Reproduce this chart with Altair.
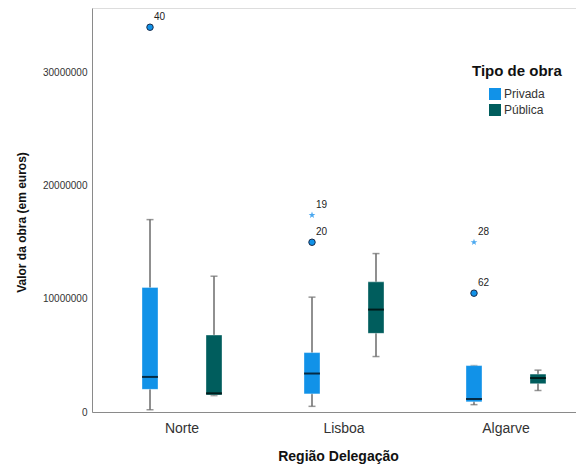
import altair as alt
import pandas as pd

FONT = "Liberation Sans"

regions = ["Norte", "Lisboa", "Algarve"]
tipos = ["Privada", "Pública"]

# box statistics (euros): per region x tipo
box_regiao = ["Norte", "Norte", "Lisboa", "Lisboa", "Algarve", "Algarve"]
box_tipo = ["Privada", "Pública", "Privada", "Pública", "Privada", "Pública"]
whisk_low = [200000, 1450000, 500000, 4900000, 650000, 1900000]
q1 = [2000000, 1500000, 1600000, 6950000, 900000, 2500000]
median = [3100000, 1650000, 3400000, 9050000, 1150000, 3000000]
q3 = [11000000, 6800000, 5250000, 11500000, 4100000, 3350000]
whisk_high = [17000000, 12000000, 10150000, 14000000, 4100000, 3700000]

# outliers
out_regiao = ["Norte", "Lisboa", "Lisboa", "Algarve", "Algarve"]
out_tipo = ["Privada", "Privada", "Privada", "Privada", "Privada"]
out_valor = [34000000, 17400000, 15000000, 15000000, 10500000]
out_id = ["40", "19", "20", "28", "62"]
out_kind = ["circle", "extreme", "circle", "extreme", "circle"]

colors = ["#1192e8", "#005d5d"]

boxes = pd.DataFrame({
    "regiao": box_regiao, "tipo": box_tipo, "lo": whisk_low, "q1": q1,
    "med": median, "q3": q3, "hi": whisk_high,
})
outs = pd.DataFrame({
    "regiao": out_regiao, "tipo": out_tipo, "valor": out_valor,
    "id": out_id, "kind": out_kind,
})

x_enc = alt.X(
    "regiao:N", sort=regions,
    scale=alt.Scale(paddingInner=0, paddingOuter=0.0556),
    axis=alt.Axis(title="Região Delegação", labelAngle=0, ticks=False,
                  labelFontSize=14, labelColor="#333333", labelPadding=9,
                  domainColor="#8a8a8a", titleFontSize=14, titleFontWeight="bold",
                  titleColor="#111111", titlePadding=14, titleX=246,
                  labelFont=FONT, titleFont=FONT),
)
xo_enc = alt.XOffset("tipo:N", sort=tipos,
                     scale=alt.Scale(paddingInner=0.75, paddingOuter=0.640625))
y_scale = alt.Scale(domain=[0, 35700000], nice=False, zero=True)
y_axis = alt.Axis(title="Valor da obra (em euros)", values=[0, 10000000, 20000000, 30000000],
                  format="d", ticks=False, grid=False, labelFontSize=10,
                  labelColor="#333333", labelPadding=5, domainColor="#8a8a8a",
                  titleFontSize=12, titleFontWeight="bold", titleColor="#111111",
                  titlePadding=14, titleY=214, labelFont=FONT, titleFont=FONT)

base = alt.Chart(boxes)

whisker = base.mark_rule(color="#6b6b6b", strokeWidth=1.5).encode(
    x=x_enc, xOffset=xo_enc,
    y=alt.Y("lo:Q", scale=y_scale, axis=y_axis), y2="hi:Q",
)
cap_lo = base.mark_tick(color="#6b6b6b", size=7, thickness=1.5).encode(
    x=x_enc, xOffset=xo_enc, y=alt.Y("lo:Q", scale=y_scale, axis=y_axis),
)
cap_hi = base.mark_tick(color="#6b6b6b", size=7, thickness=1.5).encode(
    x=x_enc, xOffset=xo_enc, y=alt.Y("hi:Q", scale=y_scale, axis=y_axis),
)
box = base.mark_bar(stroke="white", strokeOpacity=0.35, strokeWidth=1).encode(
    x=x_enc, xOffset=xo_enc,
    y=alt.Y("q1:Q", scale=y_scale, axis=y_axis), y2="q3:Q",
    color=alt.Color("tipo:N", sort=tipos,
                    scale=alt.Scale(domain=tipos, range=colors),
                    legend=alt.Legend(title="Tipo de obra", orient="none",
                                      legendX=380, legendY=56,
                                      titleFontSize=15, titleFontWeight="bold",
                                      titleColor="#111111", titleFont=FONT,
                                      titlePadding=9, labelFont=FONT,
                                      labelFontSize=12, labelColor="#333333",
                                      labelOffset=3, symbolType="square",
                                      symbolSize=144, symbolStrokeWidth=0,
                                      symbolOffset=17, rowPadding=4)),
)
med = base.mark_tick(color="black", size=16, thickness=2).encode(
    x=x_enc, xOffset=xo_enc, y=alt.Y("med:Q", scale=y_scale, axis=y_axis),
)

ob = alt.Chart(outs)
circles = ob.transform_filter(alt.datum.kind == "circle").mark_point(
    shape="circle", filled=True, fill="#1192e8", stroke="#1a2b4a",
    strokeWidth=1, size=42, opacity=1,
).encode(x=x_enc, xOffset=xo_enc, y=alt.Y("valor:Q", scale=y_scale, axis=y_axis))

star_path = ("M0,-1L0.24,-0.31L0.95,-0.31L0.38,0.12L0.59,0.81L0,0.38"
             "L-0.59,0.81L-0.38,0.12L-0.95,-0.31L-0.24,-0.31Z")
stars = ob.transform_filter(alt.datum.kind == "extreme").mark_point(
    shape=star_path, filled=True, fill="#4aa8f0", strokeWidth=0, size=50, opacity=1,
).encode(x=x_enc, xOffset=xo_enc, y=alt.Y("valor:Q", scale=y_scale, axis=y_axis))

labels = ob.mark_text(align="left", baseline="middle", dx=4, dy=-10,
                      fontSize=10, font=FONT, color="#222222").encode(
    x=x_enc, xOffset=xo_enc, y=alt.Y("valor:Q", scale=y_scale, axis=y_axis),
    text="id:N",
)

chart = alt.layer(whisker, cap_lo, cap_hi, box, med, circles, stars, labels).properties(
    width=504, height=404,
    autosize=alt.AutoSizeParams(type="none"),
    padding={"left": 84, "top": 0, "right": -20, "bottom": 52},
).configure_view(stroke=None).configure(font=FONT)

chart.save("out.html", embed_options={"renderer": "svg", "actions": False})
